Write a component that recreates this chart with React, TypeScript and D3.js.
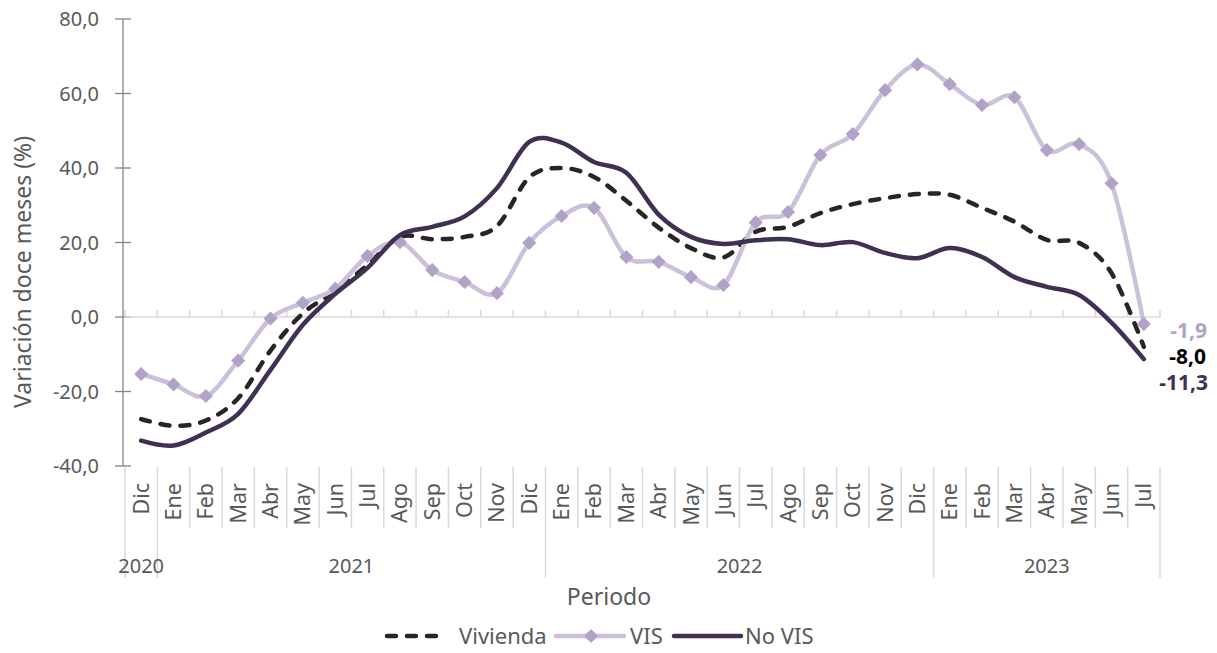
import * as d3 from "d3";

// Periodo: Dic 2020 .. Jul 2023
const months = [
  "Dic", "Ene", "Feb", "Mar", "Abr", "May", "Jun", "Jul", "Ago", "Sep", "Oct", "Nov",
  "Dic", "Ene", "Feb", "Mar", "Abr", "May", "Jun", "Jul", "Ago", "Sep", "Oct", "Nov",
  "Dic", "Ene", "Feb", "Mar", "Abr", "May", "Jun", "Jul",
];
const years = [
  { label: "2020", count: 1 },
  { label: "2021", count: 12 },
  { label: "2022", count: 12 },
  { label: "2023", count: 7 },
];

const vivienda = [
  -27.4, -29.2, -27.8, -21.8, -9.0, 1.0, 6.8, 14.0, 21.5, 20.9, 21.5, 24.4,
  37.5, 40.0, 37.6, 31.2, 24.0, 18.5, 16.0, 22.9, 24.2, 27.9, 30.3, 31.9,
  33.0, 32.8, 29.3, 25.6, 20.7, 19.9, 11.8, -8.0,
];
const vis = [
  -15.3, -18.1, -21.2, -11.7, -0.4, 3.8, 7.6, 16.4, 20.1, 12.6, 9.4, 6.4,
  19.9, 27.1, 29.3, 16.1, 14.8, 10.7, 8.6, 25.4, 28.2, 43.5, 49.1, 60.9,
  67.8, 62.5, 56.9, 59.0, 44.8, 46.4, 35.9, -1.9,
];
const noVis = [
  -33.2, -34.5, -31.0, -26.0, -14.2, -2.1, 6.2, 13.2, 22.0, 24.2, 27.0, 34.6,
  47.0, 46.8, 41.6, 38.7, 27.5, 21.5, 19.6, 20.6, 20.9, 19.3, 20.1, 17.2,
  15.8, 18.5, 16.1, 10.7, 8.1, 5.9, -1.5, -11.3,
];
const yTicks = [-40, -20, 0, 20, 40, 60, 80];

const FONT = "'Noto Sans', 'Open Sans', sans-serif";
const TEXT = "#595959";
const C_VIV = "#262626";
const C_VIS_LINE = "#ccc1da";
const C_VIS_MARK = "#b3a2c7";
const C_NOVIS = "#403152";

const fmt = (v: number) => v.toFixed(1).replace(".", ",");

export default function App() {
  const width = 1217;
  const height = 653;
  const keys = months.map((_, i) => String(i));

  const x = d3.scaleBand<string>().domain(keys).range([125, 1160]);
  const y = d3.scaleLinear().domain([-40, 80]).range([466, 19]);
  const cx = (i: number) => (x(String(i)) as number) + x.bandwidth() / 2;

  const line = d3
    .line<number>()
    .x((_, i) => cx(i))
    .y((d) => y(d))
    .curve(d3.curveCardinal.tension(0));

  // category boundaries
  const bounds = d3.range(months.length + 1).map((i) => 125 + i * x.bandwidth());
  const yearStarts: number[] = [];
  let acc = 0;
  years.forEach((yr) => {
    yearStarts.push(acc);
    acc += yr.count;
  });
  yearStarts.push(acc);

  const last = months.length - 1;
  const diamond = d3.symbol().type(d3.symbolSquare).size(100);

  return (
    <svg
      width={width}
      height={height}
      style={{ position: "absolute", left: 0, top: 0, background: "#fff" }}
      fontFamily={FONT}
    >
      {/* y axis */}
      <line x1={123} x2={123} y1={y(80)} y2={y(-40)} stroke="#868686" strokeWidth={1.3} />
      {yTicks.map((t) => (
        <g key={t}>
          <line x1={115} x2={131} y1={y(t)} y2={y(t)} stroke="#868686" strokeWidth={1.3} />
          <text x={99} y={y(t)} dy="0.35em" textAnchor="end" fontSize={20} fill={TEXT}>
            {fmt(t)}
          </text>
        </g>
      ))}

      {/* zero line with small ticks */}
      <line x1={125} x2={1161} y1={y(0)} y2={y(0)} stroke="#d9d9d9" strokeWidth={1.5} />
      {bounds.map((b, i) => (
        <line key={"zt" + i} x1={b} x2={b} y1={y(0) - 7} y2={y(0)} stroke="#d9d9d9" strokeWidth={1.5} />
      ))}

      {/* category separators below plot */}
      {bounds.map((b, i) => {
        const isYear = yearStarts.includes(i);
        return (
          <line
            key={"sep" + i}
            x1={b}
            x2={b}
            y1={467}
            y2={isYear ? 578 : 528}
            stroke="#d9d9d9"
            strokeWidth={1.5}
          />
        );
      })}

      {/* month labels */}
      {months.map((m, i) => (
        <text
          key={"m" + i}
          transform={`translate(${cx(i) + 7.5},${483}) rotate(-90)`}
          textAnchor="end"
          fontSize={21.5}
          fill={TEXT}
        >
          {m}
        </text>
      ))}

      {/* year labels */}
      {years.map((yr, k) => {
        const a = bounds[yearStarts[k]];
        const b = bounds[yearStarts[k + 1]];
        return (
          <text key={yr.label} x={(a + b) / 2} y={573} textAnchor="middle" fontSize={20} fill={TEXT}>
            {yr.label}
          </text>
        );
      })}

      {/* axis titles */}
      <text x={609} y={605} textAnchor="middle" fontSize={23} fill={TEXT}>
        Periodo
      </text>
      <text transform="translate(31,272) rotate(-90)" textAnchor="middle" fontSize={23} fill={TEXT}>
        Variación doce meses (%)
      </text>

      {/* series */}
      <path
        d={line(vivienda) as string}
        fill="none"
        stroke={C_VIV}
        strokeWidth={4.5}
        strokeDasharray="9 11"
        strokeLinecap="round"
      />
      <path d={line(vis) as string} fill="none" stroke={C_VIS_LINE} strokeWidth={4.5} strokeLinecap="round" />
      {vis.map((v, i) => (
        <path
          key={"d" + i}
          d={diamond() as string}
          transform={`translate(${cx(i)},${y(v)}) rotate(45)`}
          fill={C_VIS_MARK}
        />
      ))}
      <path d={line(noVis) as string} fill="none" stroke={C_NOVIS} strokeWidth={4.5} strokeLinecap="round" />

      {/* end labels */}
      <text x={1207} y={338} textAnchor="end" fontSize={21} fontWeight="bold" fill={C_VIS_MARK}>
        {fmt(vis[last])}
      </text>
      <text x={1206} y={364} textAnchor="end" fontSize={21} fontWeight="bold" fill="#000">
        {fmt(vivienda[last])}
      </text>
      <text x={1208} y={390} textAnchor="end" fontSize={21} fontWeight="bold" fill={C_NOVIS}>
        {fmt(noVis[last])}
      </text>

      {/* legend */}
      <g fontSize={22} fill={TEXT}>
        <line x1={387} x2={447} y1={636} y2={636} stroke={C_VIV} strokeWidth={4.5} strokeDasharray="9 11" strokeLinecap="round" />
        <text x={459} y={636} dy="0.35em">Vivienda</text>
        <line x1={556} x2={624} y1={636} y2={636} stroke={C_VIS_LINE} strokeWidth={4.5} strokeLinecap="round" />
        <path d={diamond() as string} transform="translate(591,636) rotate(45)" fill={C_VIS_MARK} />
        <text x={630} y={636} dy="0.35em">VIS</text>
        <line x1={674} x2={741} y1={636} y2={636} stroke={C_NOVIS} strokeWidth={4.5} strokeLinecap="round" />
        <text x={745} y={636} dy="0.35em">No VIS</text>
      </g>
    </svg>
  );
}
